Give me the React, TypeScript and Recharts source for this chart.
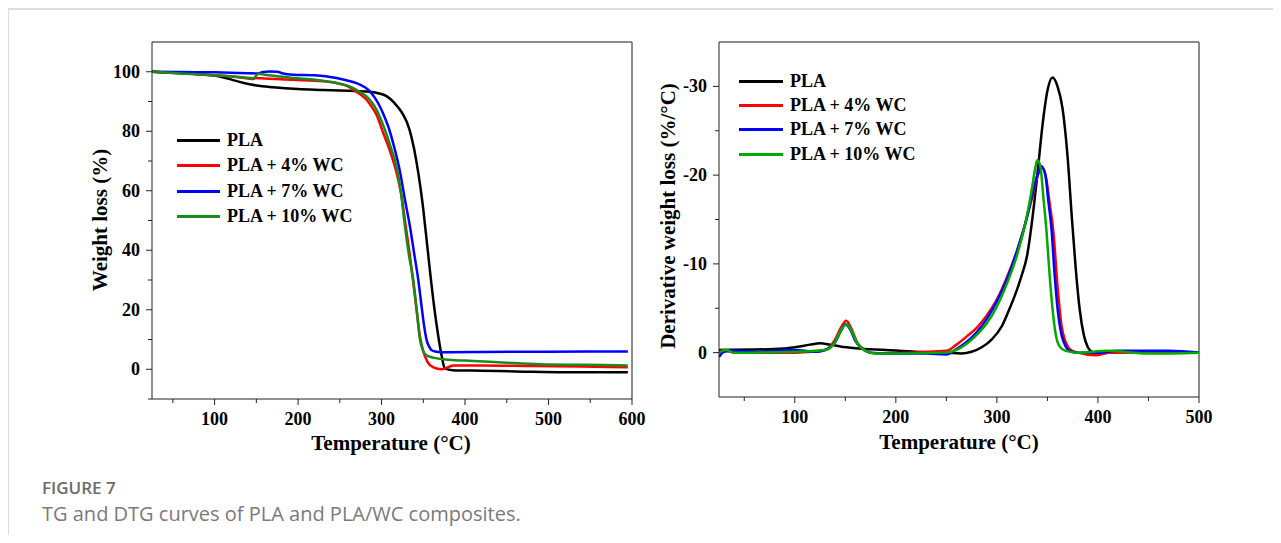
import { LineChart, Line, XAxis, YAxis, ReferenceLine, Label } from 'recharts'

// TG curves: [temperature °C, weight %]
const tgPLA = [[25, 100], [50, 99.7], [75, 99.3], [100, 98.7], [112, 98], [122, 97.2], [135, 96.2], [150, 95.4], [170, 94.8], [200, 94.2], [230, 93.9], [260, 93.6], [285, 93.3], [296, 92.8], [306, 91.8], [315, 89.6], [325, 86], [333, 81], [339, 74], [344, 66], [349, 56], [353, 46], [358, 33], [363, 21], [368, 11], [372, 4.5], [376, 0.2], [385, -0.3], [420, -0.5], [470, -0.8], [520, -1.0], [595, -1.0]]
const tgWC4 = [[25, 100], [60, 99.5], [100, 98.8], [130, 98.1], [146, 97.6], [150, 97.9], [155, 97.8], [194, 97.3], [230, 96.8], [246, 96.2], [258, 95.3], [266, 94], [274, 92.5], [282, 90.6], [288, 88.3], [294, 85.5], [302, 79.4], [311, 72.6], [318, 66], [324, 58], [329, 48], [334, 38], [338, 29], [342, 20], [346, 11], [350, 6], [355, 2.5], [362, 0.6], [372, 0], [379, 0.6], [386, 1.3], [420, 1.3], [480, 1.1], [540, 0.9], [595, 0.7]]
const tgWC7 = [[25, 100], [60, 99.9], [100, 99.8], [140, 99.5], [152, 99.4], [158, 99.9], [166, 100.1], [175, 100], [182, 99.4], [194, 99], [220, 98.8], [246, 97.9], [260, 97], [270, 96.2], [280, 94.8], [286, 93.4], [292, 91.2], [298, 88.3], [303, 85.2], [308, 81.6], [316, 73.7], [322, 66.5], [328, 57], [334, 48], [339, 39], [344, 30], [348, 21], [351, 14.5], [354, 9.8], [357, 7.6], [360, 6.4], [366, 5.9], [375, 5.7], [420, 5.8], [500, 5.9], [595, 6.0]]
const tgWC10 = [[25, 100], [60, 99.4], [100, 98.8], [130, 98.2], [147, 97.8], [150, 98.8], [153, 99.3], [160, 99], [175, 98.5], [194, 97.9], [220, 97.3], [246, 96.2], [258, 95.4], [266, 94.5], [274, 93.2], [282, 91.7], [288, 89.8], [294, 87.2], [299, 84], [304, 80.5], [312, 73.7], [318, 68], [323, 60], [328, 48], [333, 38], [338, 30], [342, 20], [346, 10], [350, 6], [354, 4.7], [362, 3.9], [380, 3.2], [410, 2.8], [450, 2.2], [490, 1.7], [540, 1.5], [595, 1.3]]

// DTG curves: [temperature °C, derivative %/°C]
const dtgPLA = [[25, -0.3], [80, -0.4], [100, -0.6], [115, -0.9], [125, -1.05], [135, -0.9], [145, -0.7], [160, -0.5], [190, -0.3], [220, -0.1], [250, 0], [265, 0.1], [275, -0.1], [285, -0.6], [295, -1.5], [305, -3], [312, -4.8], [318, -6.5], [324, -8.5], [330, -11], [335, -15], [340, -20], [345, -25.5], [350, -29.5], [355, -31], [360, -30], [365, -27.5], [370, -22], [374, -15.5], [378, -9.5], [382, -4.8], [386, -2], [390, -0.6], [395, 0], [400, 0.2], [410, 0], [500, 0]]
const dtgWC4 = [[25, 0], [30, -0.3], [40, 0], [100, 0], [130, -0.3], [140, -1.5], [146, -2.9], [151, -3.6], [156, -2.7], [162, -1.1], [170, -0.2], [180, 0.1], [250, -0.2], [260, -0.9], [270, -1.8], [280, -2.8], [290, -4.2], [300, -6], [310, -8.5], [320, -11.5], [328, -14.5], [335, -17.5], [340, -19.8], [345, -20.8], [349, -19.5], [352, -17], [356, -13.5], [360, -7.5], [364, -3], [368, -1.2], [373, -0.3], [380, 0], [398, 0.3], [410, 0], [500, 0]]
const dtgWC7 = [[25, 0.5], [30, -0.1], [40, -0.2], [60, -0.1], [100, -0.3], [120, -0.1], [130, -0.3], [140, -1.2], [146, -2.5], [150, -3.2], [155, -2.6], [160, -1.3], [168, -0.4], [175, 0], [200, 0.1], [230, 0.1], [250, 0.2], [260, -0.4], [270, -1.2], [280, -2.3], [290, -3.8], [300, -5.8], [310, -8.3], [320, -11.5], [328, -14.5], [335, -17.8], [340, -20], [344, -21], [348, -20], [351, -17], [354, -14], [357, -9], [360, -5], [364, -2], [368, -0.7], [372, -0.2], [380, 0], [400, 0], [420, -0.2], [470, -0.2], [500, 0]]
const dtgWC10 = [[25, 0], [28, -0.2], [32, -0.3], [40, 0], [100, -0.1], [130, -0.3], [140, -1.2], [146, -2.6], [151, -3.2], [156, -2.5], [162, -1], [170, -0.2], [180, 0.1], [250, 0], [260, -0.3], [270, -1], [280, -2], [290, -3.3], [300, -5.2], [310, -7.8], [320, -11], [328, -14.5], [334, -18], [338, -20.8], [340, -21.7], [343, -21], [346, -17.5], [349, -13.8], [352, -9], [355, -5], [358, -2.2], [362, -0.7], [368, -0.2], [380, 0], [410, -0.2], [450, 0.1], [500, 0]]

const seriesNames = ['PLA', 'PLA + 4% WC', 'PLA + 7% WC', 'PLA + 10% WC']
const tgColors = ['#000000', '#ff0000', '#0000ff', '#1a8a1a']
const dtgColors = ['#000000', '#ff0000', '#0000ff', '#00aa00']

const tgTicksX = [50, 100, 150, 200, 250, 300, 350, 400, 450, 500, 550, 600]
const tgTicksY = [-10, 0, 10, 20, 30, 40, 50, 60, 70, 80, 90, 100]
const dtgTicksX = [50, 100, 150, 200, 250, 300, 350, 400, 450, 500]
const dtgTicksY = [-30, -25, -20, -15, -10, -5, 0]

const toPoints = (arr: number[][]) => arr.map(([t, v]) => ({ t, v }))

const serif = '"Liberation Serif", "Times New Roman", serif'
const axisColor = '#222'
const frameColor = '#666'

function makeXTick(labelEvery: number) {
  return (props: any) => {
    const { x, y, payload } = props
    const major = payload.value % labelEvery === 0
    return (
      <g>
        <line x1={x} x2={x} y1={y} y2={y + (major ? 6 : 4)} stroke={axisColor} strokeWidth={1} />
        {major && (
          <text x={x} y={y + 20} textAnchor="middle" dominantBaseline="central"
            fontFamily={serif} fontWeight="bold" fontSize={18} fill="#000">{payload.value}</text>
        )}
      </g>
    )
  }
}

function makeYTick(isMajor: (v: number) => boolean) {
  return (props: any) => {
    const { x, y, payload } = props
    const major = isMajor(payload.value)
    return (
      <g>
        <line x1={x} x2={x - (major ? 6 : 4)} y1={y} y2={y} stroke={axisColor} strokeWidth={1} />
        {major && (
          <text x={x - 12} y={y} textAnchor="end" dominantBaseline="central"
            fontFamily={serif} fontWeight="bold" fontSize={18} fill="#000">{payload.value}</text>
        )}
      </g>
    )
  }
}

function LegendBox({ colors, left, top, rowH, lineW }: { colors: string[]; left: number; top: number; rowH: number; lineW: number }) {
  return (
    <div style={{ position: 'absolute', left, top, fontFamily: serif, fontWeight: 'bold', fontSize: 18, color: '#000' }}>
      {seriesNames.map((name, i) => (
        <div key={name} style={{ display: 'flex', alignItems: 'center', height: rowH }}>
          <span style={{ display: 'inline-block', width: lineW, height: 3, background: colors[i], marginRight: 7 }} />
          <span style={{ whiteSpace: 'nowrap' }}>{name}</span>
        </div>
      ))}
    </div>
  )
}

function TGChart() {
  const sets = [tgPLA, tgWC4, tgWC7, tgWC10]
  return (
    <LineChart width={640} height={460} margin={{ top: 34, right: 16, bottom: 0, left: 0 }}>
      <XAxis type="number" dataKey="t" domain={[25, 600]} allowDataOverflow ticks={tgTicksX} interval={0}
        tickSize={0} tickMargin={0} tickLine={false} height={69} stroke={axisColor} tick={makeXTick(100)}>
        <Label content={() => (
          <text x={383} y={435} textAnchor="middle" dominantBaseline="central" fontFamily={serif}
            fontWeight="bold" fontSize={21} fill="#000">Temperature (°C)</text>
        )} />
      </XAxis>
      <YAxis type="number" domain={[-10, 110]} allowDataOverflow ticks={tgTicksY} interval={0}
        tickSize={0} tickMargin={0} tickLine={false} width={144} stroke={axisColor}
        tick={makeYTick((v) => v >= 0 && v % 20 === 0)}>
        <Label content={() => (
          <text x={92} y={212} textAnchor="middle" dominantBaseline="central" transform="rotate(-90 92 212)"
            fontFamily={serif} fontWeight="bold" fontSize={21} fill="#000">Weight loss (%)</text>
        )} />
      </YAxis>
      <ReferenceLine y={110} stroke={frameColor} strokeWidth={1.5} />
      <ReferenceLine x={600} stroke={frameColor} strokeWidth={1.5} />
      {sets.map((s, i) => (
        <Line key={seriesNames[i]} data={toPoints(s)} dataKey="v" name={seriesNames[i]} type="monotone"
          stroke={tgColors[i]} strokeWidth={2.5} dot={false} isAnimationActive={false} />
      ))}
    </LineChart>
  )
}

function DTGChart() {
  const sets = [dtgPLA, dtgWC4, dtgWC7, dtgWC10]
  return (
    <LineChart width={570} height={460} margin={{ top: 34, right: 19, bottom: 0, left: 0 }}>
      <XAxis type="number" dataKey="t" domain={[25, 500]} allowDataOverflow ticks={dtgTicksX} interval={0}
        tickSize={0} tickMargin={0} tickLine={false} height={71} stroke={axisColor} tick={makeXTick(100)}>
        <Label content={() => (
          <text x={311} y={434} textAnchor="middle" dominantBaseline="central" fontFamily={serif}
            fontWeight="bold" fontSize={21} fill="#000">Temperature (°C)</text>
        )} />
      </XAxis>
      <YAxis type="number" reversed domain={[-35, 5]} allowDataOverflow ticks={dtgTicksY} interval={0}
        tickSize={0} tickMargin={0} tickLine={false} width={71} stroke={axisColor}
        tick={makeYTick((v) => v % 10 === 0)}>
        <Label content={() => (
          <text x={20} y={208} textAnchor="middle" dominantBaseline="central" transform="rotate(-90 20 208)"
            fontFamily={serif} fontWeight="bold" fontSize={21} fill="#000">Derivative weight loss (%/°C)</text>
        )} />
      </YAxis>
      <ReferenceLine y={-35} stroke={frameColor} strokeWidth={1.5} />
      <ReferenceLine x={500} stroke={frameColor} strokeWidth={1.5} />
      {sets.map((s, i) => (
        <Line key={seriesNames[i]} data={toPoints(s)} dataKey="v" name={seriesNames[i]} type="monotone"
          stroke={dtgColors[i]} strokeWidth={2.5} dot={false} isAnimationActive={false} />
      ))}
    </LineChart>
  )
}

export default function App() {
  return (
    <div style={{ position: 'relative', width: 1273, height: 527, overflow: 'hidden' }}>
      <div style={{ position: 'absolute', left: 0, top: 0, right: -20, bottom: -20,
        borderTop: '2px solid #dcdcdc', borderLeft: '1px solid #dcdcdc' }} />
      <div style={{ position: 'absolute', left: 0, top: 0 }}><TGChart /></div>
      <div style={{ position: 'absolute', left: 640, top: 0 }}><DTGChart /></div>
      <LegendBox colors={tgColors} left={169} top={120} rowH={25.3} lineW={43} />
      <LegendBox colors={dtgColors} left={731} top={61} rowH={24.4} lineW={44} />
      <div style={{ position: 'absolute', left: 34, top: 469, fontFamily: '"Open Sans", sans-serif',
        fontSize: 17, lineHeight: '22px', fontWeight: 600, color: '#6b6b6b' }}>FIGURE 7</div>
      <div style={{ position: 'absolute', left: 34, top: 494, fontFamily: '"Open Sans", sans-serif',
        fontSize: 20, lineHeight: '24px', fontWeight: 400, color: '#7a7a7a' }}>
        TG and DTG curves of PLA and PLA/WC composites.</div>
    </div>
  )
}
